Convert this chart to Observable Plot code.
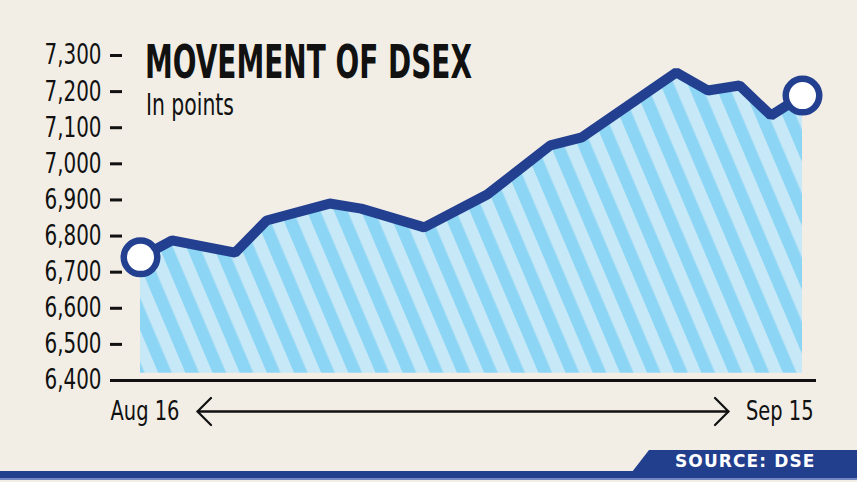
<!DOCTYPE html>
<html>
<head>
<meta charset="utf-8">
<script src="https://cdn.jsdelivr.net/npm/d3@7"></script>
<script src="https://cdn.jsdelivr.net/npm/@observablehq/plot@0.6"></script>
<style>
  html, body { margin: 0; padding: 0; background: #f2eee6; }
  #wrap { position: relative; width: 857px; height: 482px; overflow: hidden; background: #f2eee6;
          font-family: "DejaVu Sans Condensed", "DejaVu Sans", sans-serif; color: #111; }
  #chart { position: absolute; left: 0; top: 0; }
  #title { position: absolute; left: 145px; top: 39px; font-size: 46px; font-weight: bold; line-height: 1;
           white-space: nowrap; transform: scaleX(0.675); transform-origin: 0 0; }
  #subtitle { position: absolute; left: 146px; top: 89px; font-size: 31px; line-height: 1;
              white-space: nowrap; transform: scaleX(0.73); transform-origin: 0 0; }
  #band { position: absolute; left: 0; top: 471px; width: 857px; height: 7px; background: #223f8e; }
  #band2 { position: absolute; left: 0; top: 478px; width: 857px; height: 2px; background: #7588c3; }
  #source { position: absolute; left: 632px; top: 450px; width: 225px; height: 22px; background: #223f8e;
            clip-path: polygon(17px 0, 100% 0, 100% 100%, 0 100%);
            font-family: "DejaVu Sans", sans-serif; font-weight: bold; font-size: 17px; color: #fff;
            letter-spacing: 1.1px; line-height: 22px; padding-left: 43px; box-sizing: border-box; white-space: nowrap; }
</style>
</head>
<body>
<div id="wrap">
  <div id="chart"></div>
  <div id="title"></div>
  <div id="subtitle"></div>
  <div id="band"></div>
  <div id="band2"></div>
  <div id="source"></div>
</div>
<script>
// ---- data ----
const titleText = "MOVEMENT OF DSEX";
const subtitleText = "In points";
const sourceText = "SOURCE: DSE";
// trading-day index from Aug 16 (0) to Sep 15 (21)
const days   = [0, 1, 3, 4, 6, 7, 9, 11, 13, 14, 17, 18, 19, 20, 21];
const values = [6741, 6788, 6754, 6843, 6890, 6876, 6824, 6915, 7051, 7073, 7253, 7203, 7217, 7134, 7189];
const yTicks = [6400, 6500, 6600, 6700, 6800, 6900, 7000, 7100, 7200, 7300];
const endLabels = ["Aug 16", "Sep 15"];
const areaBase = 6420;

document.getElementById("title").textContent = titleText;
document.getElementById("subtitle").textContent = subtitleText;
document.getElementById("source").textContent = sourceText;

const data = days.map((d, i) => ({day: d, value: values[i]}));
const ends = [data[0], data[data.length - 1]];
const firstDay = days[0], lastDay = days[days.length - 1];
const arrowLeft = [{x1: lastDay, x2: firstDay}];
const arrowRight = [{x1: firstDay, x2: lastDay}];

const blue = "#233f8f";
const font = '"DejaVu Sans Condensed", "DejaVu Sans", sans-serif';
const arrowOpts = {x1: "x1", x2: "x2", y1: () => yTicks[0], y2: () => yTicks[0], dy: 31,
                   stroke: "#111", strokeWidth: 2.2, headLength: 13, headAngle: 90, bend: 0};

const plot = Plot.plot({
  width: 857,
  height: 440,
  marginLeft: 140,
  marginRight: 55,
  marginTop: 55,
  marginBottom: 60,
  style: {background: "transparent", fontFamily: font, color: "#111", overflow: "visible"},
  x: {domain: [firstDay, lastDay], axis: null},
  y: {domain: [yTicks[0], yTicks[yTicks.length - 1]], axis: null},
  marks: [
    Plot.areaY(data, {x: "day", y1: () => areaBase, y2: "value", fill: "url(#stripes)"}),
    Plot.ruleY([yTicks[0]], {stroke: "#111", strokeWidth: 3, insetLeft: -30, insetRight: -14}),
    Plot.axisY({ticks: yTicks, tickFormat: d3.format(","), tickSize: 12, tickPadding: 9, dx: -18, label: null,
                stroke: "#111", strokeWidth: 3, fill: "#111", fontSize: 28, anchor: "left"}),
    Plot.lineY(data, {x: "day", y: "value", stroke: blue, strokeWidth: 10, strokeLinejoin: "miter"}),
    Plot.dot(ends, {x: "day", y: "value", r: 16.75, fill: "white", stroke: blue, strokeWidth: 6.5}),
    Plot.text([endLabels[0]], {x: firstDay, y: yTicks[0], text: d => d, textAnchor: "start", dx: -30, dy: 31,
                               fontSize: 27, fill: "#111"}),
    Plot.text([endLabels[1]], {x: lastDay, y: yTicks[0], text: d => d, textAnchor: "end", dx: 11, dy: 31,
                               fontSize: 27, fill: "#111"}),
    Plot.arrow(arrowLeft, {...arrowOpts, insetStart: 74, insetEnd: 57}),
    Plot.arrow(arrowRight, {...arrowOpts, insetStart: 57, insetEnd: 74})
  ]
});

// stripe pattern
d3.select(plot).insert("defs", ":first-child").html(
  '<pattern id="stripes" patternUnits="userSpaceOnUse" width="25" height="25" patternTransform="rotate(-23)">' +
  '<rect width="25" height="25" fill="#c6e8f7"></rect><rect width="12.5" height="25" fill="#8dd5f4"></rect></pattern>'
);
document.getElementById("chart").appendChild(plot);

// condense the wide fallback font horizontally to match the narrow original lettering
function condense(selection, k) {
  selection.each(function () {
    const w = this.getComputedTextLength();
    this.setAttribute("textLength", (w * k).toFixed(1));
    this.setAttribute("lengthAdjust", "spacingAndGlyphs");
  });
}
condense(d3.select(plot).selectAll('g[aria-label="y-axis tick label"] text'), 0.79);
condense(d3.select(plot).selectAll('g[aria-label="text"] text'), 0.8);
</script>
</body>
</html>
